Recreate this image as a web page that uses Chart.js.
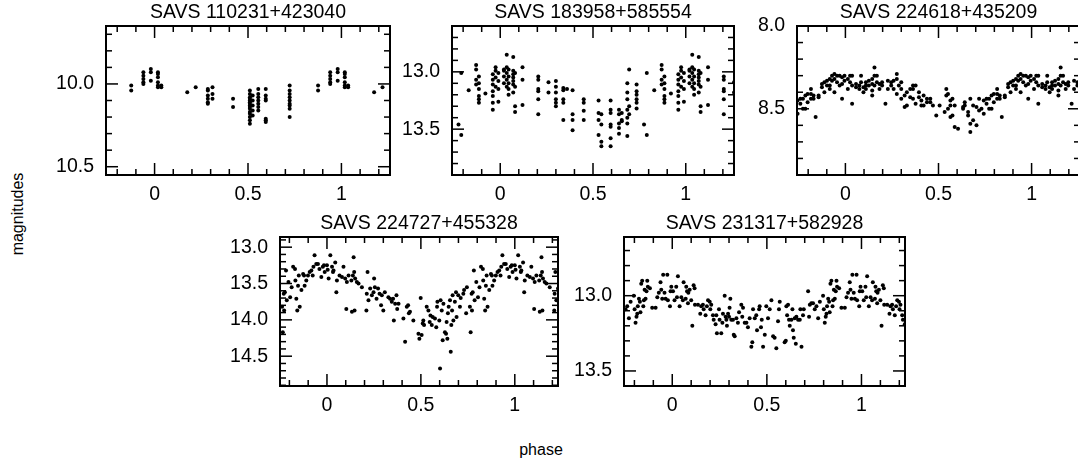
<!DOCTYPE html>
<html>
<head>
<meta charset="utf-8">
<title>SAVS light curves</title>
<script src="https://cdn.jsdelivr.net/npm/chart.js@4.4.1/dist/chart.umd.min.js"></script>
<style>
  html, body { margin: 0; padding: 0; background: #fff; }
  body { position: relative; width: 1078px; height: 466px; overflow: hidden; }
  canvas { position: absolute; }
  .axis-label { position: absolute; font: 16px 'Liberation Sans', Arial, sans-serif; color: #000; white-space: nowrap; }
  #ylabel { left: 18px; top: 214px; transform: translate(-50%, -50%) rotate(-90deg); }
  #xlabel { left: 541px; top: 450px; transform: translate(-50%, -50%); }
</style>
</head>
<body>
<canvas id="c0"></canvas>
<canvas id="c1"></canvas>
<canvas id="c2"></canvas>
<canvas id="c3"></canvas>
<canvas id="c4"></canvas>
<div id="ylabel" class="axis-label">magnitudes</div>
<div id="xlabel" class="axis-label">phase</div>
<script>
var TITLES = [
  'SAVS 110231+423040',
  'SAVS 183958+585554',
  'SAVS 224618+435209',
  'SAVS 224727+455328',
  'SAVS 231317+582928'
];

var X_TICKS = [0, 0.5, 1];
var Y_TICKS = [
  [10.0, 10.5],
  [13.0, 13.5],
  [8.0, 8.5],
  [13.0, 13.5, 14.0, 14.5],
  [13.0, 13.5]
];
var X_RANGES = [[-0.26, 1.26], [-0.26, 1.26], [-0.26, 1.26], [-0.25, 1.23], [-0.255, 1.23]];
var Y_RANGES = [[9.65, 10.55], [12.6, 13.9], [8.0, 8.9], [12.86, 14.91], [12.61, 13.6]];

/* SAVS 110231+423040: phase columns, magnitudes per column */
var P1_PHASE = [0.875, 0.94, 0.98, 0.018, 0.036, 0.175, 0.22, 0.285, 0.31, 0.42, 0.51, 0.525, 0.555, 0.595, 0.723];
var P1_MAG = [
  [10.01, 10.04],
  [9.93, 9.95, 9.97, 9.99, 10.0],
  [9.91, 9.93, 9.98],
  [9.93, 9.94, 9.96, 9.99, 10.01, 10.02],
  [10.01, 10.02],
  [10.05],
  [10.02],
  [10.03, 10.04, 10.07, 10.09, 10.11, 10.12],
  [10.02, 10.06, 10.09],
  [10.09, 10.14],
  [10.04, 10.06, 10.08, 10.09, 10.10, 10.11, 10.12, 10.13, 10.14, 10.15, 10.17, 10.18, 10.20, 10.22, 10.24],
  [10.07, 10.10, 10.13, 10.16, 10.19],
  [10.03, 10.06, 10.08, 10.10, 10.12, 10.14, 10.16],
  [10.03, 10.07, 10.09, 10.10, 10.21, 10.22, 10.23],
  [10.01, 10.04, 10.06, 10.08, 10.10, 10.12, 10.13, 10.15, 10.20]
];

/* SAVS 183958+585554 */
var P2_PHASE = [0.02, 0.035, 0.045, 0.07, 0.08, 0.12, 0.205, 0.26, 0.30, 0.34, 0.36, 0.39, 0.45, 0.53, 0.545,
                0.595, 0.64, 0.655, 0.685, 0.695, 0.735, 0.775, 0.79, 0.83, 0.87, 0.885, 0.92, 0.96, 0.975, 0.99];
var P2_MAG = [
  [12.98, 12.99, 13.04, 13.10],
  [12.85, 12.96, 13.01, 13.07, 13.13],
  [12.98, 13.04, 13.10, 13.15, 13.20],
  [12.87, 12.99, 13.02, 13.05, 13.08, 13.11, 13.18],
  [13.01, 13.13, 13.30, 13.35],
  [12.96, 13.07, 13.29],
  [13.04, 13.07, 13.15, 13.17, 13.24, 13.37],
  [13.09, 13.18],
  [13.08, 13.13, 13.18, 13.24, 13.27, 13.30],
  [13.14, 13.16, 13.24, 13.27, 13.42],
  [13.15],
  [13.16, 13.37, 13.42, 13.51],
  [13.24, 13.27, 13.34, 13.42],
  [13.25, 13.36, 13.42, 13.55],
  [13.37, 13.46, 13.61, 13.65],
  [13.25, 13.33, 13.36, 13.46, 13.48, 13.58, 13.65],
  [13.33, 13.37, 13.45, 13.49, 13.54],
  [13.36, 13.42, 13.43],
  [13.10, 13.18, 13.24, 13.33, 13.40, 13.45, 13.56],
  [12.98, 13.30, 13.37],
  [13.11, 13.17, 13.20, 13.24, 13.27, 13.32],
  [13.46],
  [13.01, 13.55],
  [13.16],
  [12.94, 12.98, 13.07, 13.11],
  [13.04, 13.10, 13.15, 13.21, 13.24, 13.27],
  [13.19],
  [13.02, 13.07, 13.11, 13.17, 13.21, 13.27, 13.33],
  [12.96, 12.99, 13.05, 13.13],
  [13.01, 13.08, 13.15, 13.26]
];

/* SAVS 224618+435209 */
var P3_PHASE = [0.013, 0.025, 0.036, 0.057, 0.075, 0.084, 0.097, 0.11, 0.126, 0.144, 0.156, 0.169, 0.183, 0.197,
                0.215, 0.228, 0.246, 0.259, 0.276, 0.287, 0.30, 0.318, 0.33, 0.348, 0.363, 0.377, 0.395, 0.408,
                0.42, 0.438, 0.456, 0.47, 0.488, 0.506, 0.533, 0.542, 0.551, 0.564, 0.575, 0.587, 0.605, 0.632,
                0.641, 0.659, 0.671, 0.686, 0.704, 0.718, 0.731, 0.743, 0.758, 0.772, 0.785, 0.797, 0.815, 0.829,
                0.84, 0.856, 0.874, 0.887, 0.901, 0.916, 0.928, 0.941, 0.955, 0.969, 0.982, 0.995];
var P3_MAG = [
  [8.32, 8.38], [8.30, 8.34], [8.30, 8.36, 8.47], [8.35, 8.37], [8.36, 8.38], [8.30, 8.34], [8.37, 8.40],
  [8.34, 8.36, 8.38], [8.33, 8.36], [8.32, 8.35, 8.39, 8.42], [8.25, 8.30, 8.36], [8.30, 8.34], [8.35, 8.38],
  [8.34, 8.36], [8.47], [8.33, 8.38], [8.34, 8.36], [8.33, 8.38], [8.29, 8.32, 8.41], [8.36],
  [8.34, 8.38, 8.44], [8.42, 8.49], [8.40, 8.48], [8.38, 8.43], [8.36, 8.38, 8.44], [8.36, 8.47],
  [8.40, 8.43], [8.45, 8.48], [8.42, 8.48], [8.44, 8.46], [8.44, 8.46], [8.48], [8.54], [8.48], [8.52],
  [8.38, 8.42], [8.41, 8.50], [8.45, 8.48, 8.55], [8.44, 8.54], [8.48, 8.61], [8.62], [8.49, 8.50],
  [8.46, 8.48], [8.52, 8.54], [8.44, 8.64, 8.59], [8.48, 8.57], [8.49, 8.60], [8.44, 8.51], [8.50],
  [8.45, 8.53], [8.44, 8.47], [8.44, 8.50], [8.42, 8.50], [8.41, 8.46], [8.38, 8.44, 8.41], [8.42, 8.44],
  [8.55], [8.42, 8.43], [8.35, 8.37], [8.34, 8.40], [8.33, 8.36], [8.32, 8.36, 8.38], [8.30, 8.33],
  [8.29, 8.32, 8.40], [8.30, 8.34], [8.30, 8.36], [8.31, 8.35, 8.44], [8.30, 8.33]
];

/* SAVS 224727+455328 */
var P4_PHASE = [
  0.000, 0.004, 0.009, 0.018, 0.027, 0.032, 0.035, 0.044, 0.050, 0.053, 0.067, 0.080, 0.088, 0.097, 0.103,
  0.106, 0.115, 0.130, 0.133, 0.138, 0.142, 0.145, 0.147, 0.150, 0.159, 0.168, 0.186, 0.210, 0.212, 0.216,
  0.221, 0.230, 0.239, 0.248, 0.251, 0.255, 0.264, 0.272, 0.280, 0.288, 0.292, 0.300, 0.308, 0.327, 0.336,
  0.345, 0.352, 0.356, 0.363, 0.370, 0.374, 0.381, 0.407, 0.416, 0.425, 0.432, 0.436, 0.442, 0.460, 0.487,
  0.492, 0.499, 0.504, 0.510, 0.513, 0.517, 0.531, 0.540, 0.547, 0.551, 0.558, 0.563, 0.575, 0.582, 0.586,
  0.588, 0.598, 0.602, 0.605, 0.611, 0.616, 0.620, 0.628, 0.634, 0.637, 0.641, 0.644, 0.648, 0.655, 0.659,
  0.662, 0.666, 0.669, 0.673, 0.681, 0.687, 0.690, 0.699, 0.708, 0.712, 0.726, 0.730, 0.741, 0.745, 0.761,
  0.765, 0.770, 0.772, 0.776, 0.782, 0.786, 0.795, 0.804, 0.812, 0.820, 0.830, 0.832, 0.837, 0.842, 0.846,
  0.850, 0.855, 0.864, 0.873, 0.878, 0.881, 0.890, 0.899, 0.908, 0.917, 0.924, 0.928, 0.934, 0.943, 0.952,
  0.960, 0.970, 0.978, 0.984, 0.988
];
var P4_MAG = [
  13.25, 13.31, 13.43, 13.11, 13.27, 13.34, 13.32, 13.21, 13.62, 13.46, 13.39, 13.41, 13.27, 13.43, 13.85,
  13.48, 13.39, 13.46, 13.89, 13.39, 13.14, 13.34, 13.87, 13.43, 13.48, 13.50, 13.55, 13.87, 13.64, 13.34,
  13.73, 13.57, 13.66, 13.62, 13.43, 13.55, 13.71, 13.57, 13.64, 13.80, 13.66, 13.87, 13.62, 13.69, 13.71,
  13.75, 13.71, 14.01, 13.78, 13.66, 13.85, 13.78, 13.98, 14.30, 13.82, 13.80, 13.91, 13.89, 14.01, 14.19,
  14.26, 13.70, 14.21, 14.05, 14.01, 14.07, 13.82, 13.87, 14.03, 13.94, 14.07, 13.96, 13.98, 14.10, 13.82,
  13.75, 14.01, 14.67, 13.73, 13.87, 14.28, 13.78, 14.17, 14.19, 14.03, 14.26, 13.91, 13.82, 13.73, 14.44,
  14.07, 13.87, 13.66, 14.01, 13.75, 13.62, 13.96, 13.66, 13.82, 13.70, 13.64, 13.59, 13.91, 13.55, 13.82,
  14.17, 13.64, 13.87, 13.62, 13.32, 13.73, 13.48, 13.69, 13.55, 13.27, 13.30, 13.46, 13.71, 13.87, 13.53,
  13.39, 13.82, 13.59, 13.37, 13.39, 13.53, 13.46, 13.39, 13.34, 13.32, 13.39, 13.27, 13.11, 13.23, 13.23,
  13.30, 13.41, 13.27, 13.25, 13.34
];

/* SAVS 231317+582928 */
var P5_PHASE = [
  0.004, 0.012, 0.021, 0.025, 0.030, 0.039, 0.048, 0.056, 0.060, 0.071, 0.074, 0.078, 0.083, 0.085, 0.092,
  0.100, 0.106, 0.113, 0.118, 0.120, 0.136, 0.148, 0.153, 0.162, 0.166, 0.176, 0.183, 0.189, 0.198, 0.201,
  0.206, 0.215, 0.219, 0.229, 0.233, 0.236, 0.247, 0.250, 0.259, 0.265, 0.268, 0.277, 0.282, 0.286, 0.289,
  0.295, 0.300, 0.303, 0.307, 0.312, 0.321, 0.325, 0.330, 0.339, 0.347, 0.353, 0.365, 0.370, 0.374, 0.383,
  0.392, 0.400, 0.409, 0.418, 0.423, 0.427, 0.436, 0.444, 0.448, 0.459, 0.462, 0.469, 0.473, 0.480, 0.489,
  0.497, 0.506, 0.515, 0.524, 0.533, 0.541, 0.550, 0.559, 0.564, 0.568, 0.594, 0.600, 0.603, 0.607, 0.612,
  0.617, 0.621, 0.630, 0.635, 0.638, 0.642, 0.647, 0.653, 0.656, 0.665, 0.674, 0.677, 0.683, 0.691, 0.695,
  0.718, 0.723, 0.727, 0.735, 0.744, 0.753, 0.762, 0.771, 0.780, 0.797, 0.801, 0.806, 0.811, 0.815, 0.818,
  0.824, 0.829, 0.832, 0.836, 0.841, 0.847, 0.850, 0.854, 0.859, 0.864, 0.868, 0.871, 0.882, 0.894, 0.912,
  0.921, 0.929, 0.938, 0.942, 0.947, 0.952, 0.959, 0.965, 0.974, 0.977, 0.988, 0.991, 0.995
];
var P5_MAG = [
  12.97, 13.03, 12.94, 13.01, 12.87, 13.07, 13.01, 13.03, 12.91, 13.02, 12.94, 12.97, 13.05, 12.98, 12.96,
  13.03, 13.20, 12.93, 12.95, 13.06, 13.06, 13.12, 13.07, 13.06, 13.09, 13.13, 13.07, 13.03, 13.04, 13.09,
  13.06, 13.13, 13.16, 13.19, 13.13, 13.25, 13.09, 13.16, 13.25, 13.18, 13.12, 13.00, 13.14, 13.16, 13.20,
  13.12, 13.14, 13.08, 13.02, 13.16, 13.16, 13.26, 13.27, 13.15, 13.18, 13.11, 13.06, 13.14, 13.08, 13.18,
  13.18, 13.21, 13.15, 13.34, 13.31, 13.09, 13.15, 13.13, 13.23, 13.09, 13.07, 13.21, 13.16, 13.34, 13.26,
  13.07, 13.15, 13.09, 13.03, 13.27, 13.28, 13.35, 13.17, 13.09, 13.04, 13.31, 13.30, 13.07, 13.13, 13.06,
  13.16, 13.20, 13.16, 13.09, 13.23, 13.28, 13.15, 13.32, 13.14, 13.16, 13.16, 13.09, 13.34, 13.13, 13.09,
  12.97, 13.14, 13.06, 13.05, 13.05, 13.09, 13.07, 13.15, 13.04, 13.00, 13.09, 13.18, 13.14, 13.12, 13.07,
  13.02, 13.04, 13.11, 12.92, 12.90, 13.07, 13.03, 12.96, 13.02, 12.97, 12.90, 12.94, 12.95, 13.08, 13.08,
  13.01, 12.98, 12.91, 12.96, 13.02, 12.86, 12.98, 13.02, 12.86, 13.03, 13.07, 12.97, 12.94
];

var PHASES = [P1_PHASE, P2_PHASE, P3_PHASE, P4_PHASE, P5_PHASE];
var MAGS = [P1_MAG, P2_MAG, P3_MAG, P4_MAG, P5_MAG];

// plot frame of every panel in page pixels: left, top, right, bottom
var BOXES = [
  [106, 26, 390, 175],
  [452, 26, 734, 175],
  [797, 26, 1080, 175],
  [280, 237, 558, 386],
  [624, 237, 905, 386]
];
var ML = 70, MR = 4, MT = 26, MB = 30;
var FONT = "'Liberation Sans', Arial, Helvetica, sans-serif";

// each observation is shown once per cycle that falls inside the phase window
function foldPoints(phases, mags, xr) {
  var pts = [];
  phases.forEach(function(p, i) {
    var ms = Array.isArray(mags[i]) ? mags[i] : [mags[i]];
    ms.forEach(function(m) {
      [-1, 0, 1].forEach(function(k) {
        var x = p + k;
        if (x >= xr[0] && x <= xr[1]) pts.push({ x: x, y: m });
      });
    });
  });
  return pts;
}

// minor tick values every 0.1 inside a range
function tenths(r) {
  var lo = Math.min(r[0], r[1]), hi = Math.max(r[0], r[1]);
  var o = [];
  var k = Math.ceil(lo * 10 - 1e-6);
  while (k <= Math.floor(hi * 10 + 1e-6)) { o.push(k / 10); k++; }
  return o;
}

function isMajor(v) { return Math.abs(v * 2 - Math.round(v * 2)) < 1e-6; }

// boxed axes with inward ticks on all four sides
function makeFrame(xr, yr) {
  return {
    id: 'frame',
    afterDraw: function(chart) {
      var a = chart.chartArea, ctx = chart.ctx;
      var xs = chart.scales.x, ys = chart.scales.y;
      ctx.save();
      ctx.fillStyle = '#000';
      ctx.fillRect(a.left - 1, a.top - 1, a.right - a.left + 2, 2);
      ctx.fillRect(a.left - 1, a.bottom - 1, a.right - a.left + 2, 2);
      ctx.fillRect(a.left - 1, a.top - 1, 2, a.bottom - a.top + 2);
      ctx.fillRect(a.right - 1, a.top - 1, 2, a.bottom - a.top + 2);
      tenths(xr).forEach(function(v) {
        var px = xs.getPixelForValue(v);
        var len = isMajor(v) ? 12 : 6;
        ctx.fillRect(px - 0.75, a.bottom - len, 1.5, len);
        ctx.fillRect(px - 0.75, a.top, 1.5, len);
      });
      tenths(yr).forEach(function(v) {
        var py = ys.getPixelForValue(v);
        var len = isMajor(v) ? 12 : 6;
        ctx.fillRect(a.left, py - 0.75, len, 1.5);
        ctx.fillRect(a.right - len, py - 0.75, len, 1.5);
      });
      ctx.restore();
    }
  };
}

function drawPanel(i) {
  var b = BOXES[i];
  var canvas = document.getElementById('c' + i);
  canvas.width = b[2] - b[0] + ML + MR;
  canvas.height = b[3] - b[1] + MT + MB;
  canvas.style.left = (b[0] - ML) + 'px';
  canvas.style.top = (b[1] - MT) + 'px';

  new Chart(canvas, {
    type: 'scatter',
    data: {
      datasets: [{
        data: foldPoints(PHASES[i], MAGS[i], X_RANGES[i]),
        backgroundColor: '#000',
        borderWidth: 0,
        pointRadius: 2
      }]
    },
    options: {
      responsive: false,
      animation: false,
      events: [],
      layout: { padding: { left: 0, top: 0, bottom: 0, right: MR }, autoPadding: false },
      plugins: {
        legend: { display: false },
        tooltip: { enabled: false },
        title: {
          display: true,
          text: TITLES[i],
          fullSize: false,
          color: '#000',
          font: { family: FONT, size: 19.5, weight: 'normal', lineHeight: 1 },
          padding: { top: 3, bottom: 3.5 }
        }
      },
      scales: {
        x: {
          type: 'linear',
          min: X_RANGES[i][0],
          max: X_RANGES[i][1],
          grid: { display: false, drawTicks: false },
          border: { display: false },
          afterBuildTicks: function(s) { s.ticks = X_TICKS.map(function(v) { return { value: v }; }); },
          afterFit: function(s) { s.height = MB; },
          ticks: {
            color: '#000',
            font: { family: FONT, size: 19.5 },
            padding: 8,
            autoSkip: false,
            maxRotation: 0,
            callback: function(v) { return String(v); }
          }
        },
        y: {
          type: 'linear',
          reverse: true,
          min: Y_RANGES[i][0],
          max: Y_RANGES[i][1],
          grid: { display: false, drawTicks: false },
          border: { display: false },
          afterBuildTicks: function(s) { s.ticks = Y_TICKS[i].map(function(v) { return { value: v }; }); },
          afterFit: function(s) { s.width = ML; },
          ticks: {
            color: '#000',
            font: { family: FONT, size: 19.5 },
            padding: 12,
            autoSkip: false,
            callback: function(v) { return v.toFixed(1); }
          }
        }
      }
    },
    plugins: [makeFrame(X_RANGES[i], Y_RANGES[i])]
  });
}

for (var n = 0; n < TITLES.length; n++) drawPanel(n);
</script>
</body>
</html>
